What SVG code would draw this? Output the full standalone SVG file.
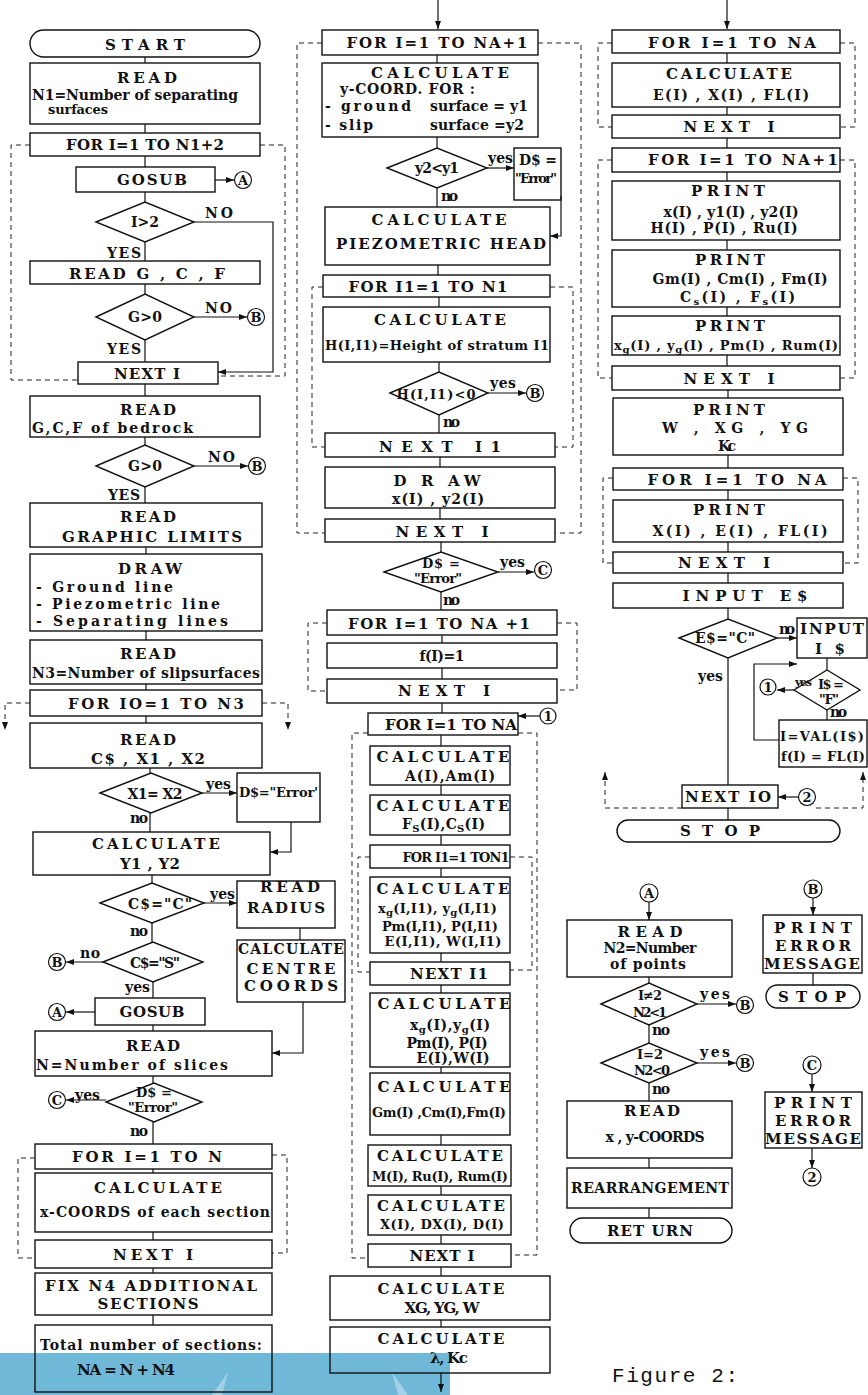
<svg xmlns="http://www.w3.org/2000/svg" width="868" height="1395" viewBox="0 0 868 1395">
<defs>
<marker id="ah" markerWidth="8" markerHeight="6" refX="8" refY="3" orient="auto" markerUnits="userSpaceOnUse"><path d="M0,0 L8,3 L0,6 z" fill="#111"/></marker>
<style>
.b{fill:none;stroke:#111;stroke-width:1.4}
.c{fill:none;stroke:#111;stroke-width:1.2}
.a{fill:none;stroke:#111;stroke-width:1.2;marker-end:url(#ah)}
.d{fill:none;stroke:#222;stroke-width:1;stroke-dasharray:5 4}
.da{fill:none;stroke:#222;stroke-width:1;stroke-dasharray:5 4;marker-end:url(#ah)}
text{font-family:"DejaVu Serif","Liberation Serif",serif;font-weight:bold;fill:#111}
.t{font-size:14px;text-anchor:middle}
.h{font-size:15px;text-anchor:middle}
.l{font-size:14px}
.s{font-size:13px}
.k{font-size:13px;text-anchor:middle}
.m{font-family:"Liberation Mono",monospace;font-weight:normal;font-size:21px}
</style>
</defs>
<rect x="0" y="0" width="868" height="1395" fill="#fff"/>
<g id="band">
<rect x="0" y="1353" width="450" height="42" fill="#70b8d8"/>
<path d="M228,1372 L212,1395 L222,1395 Z" fill="#fff" opacity="0.35"/>
<path d="M392,1372 L408,1395 L398,1395 Z" fill="#fff" opacity="0.35"/>
</g>

<!-- ===== LEFT COLUMN ===== -->
<g id="n_start"><rect class="b" x="30" y="30" width="230" height="27" rx="13.5"/><text class="h" x="145" y="50" textLength="80">START</text></g>
<g id="n_readN1"><rect class="b" x="30" y="63" width="230" height="61"/><text class="h" x="147" y="83" textLength="60">READ</text><text class="l" x="32" y="100" textLength="206">N1=Number of separating</text><text class="s" x="48" y="114" textLength="60">surfaces</text></g>
<g id="n_forN1"><rect class="b" x="30" y="133" width="230" height="23"/><text class="h" x="145" y="150" textLength="158">FOR I=1 TO N1+2</text></g>
<g id="n_gosub1"><rect class="b" x="76" y="167" width="139" height="25"/><text class="h" x="152" y="185" textLength="70">GOSUB</text></g>
<g id="n_i2"><polygon class="b" points="96,222 145,202 194,222 145,242"/><text class="t" x="145" y="227" textLength="28">I&gt;2</text></g>
<g id="n_readGCF"><rect class="b" x="30" y="261" width="230" height="23"/><text class="h" x="147" y="279" textLength="156">READ   G , C , F</text></g>
<g id="n_g0a"><polygon class="b" points="96,317 145,294 194,317 145,340"/><text class="t" x="145" y="322" textLength="34">G&gt;0</text></g>
<g id="n_next1"><rect class="b" x="78" y="362" width="140" height="22"/><text class="h" x="147" y="379" textLength="66">NEXT I</text></g>
<g id="n_bedrock"><rect class="b" x="30" y="396" width="230" height="41"/><text class="h" x="148" y="415" textLength="56">READ</text><text class="l" x="32" y="433" textLength="161">G,C,F of bedrock</text></g>
<g id="n_g0b"><polygon class="b" points="96,466 145,445 194,466 145,487"/><text class="t" x="145" y="471" textLength="34">G&gt;0</text></g>
<g id="n_graphic"><rect class="b" x="30" y="503" width="232" height="44"/><text class="h" x="148" y="522" textLength="56">READ</text><text class="h" x="152" y="542" textLength="180">GRAPHIC LIMITS</text></g>
<g id="n_draw1"><rect class="b" x="30" y="554" width="232" height="77"/><text class="h" x="150" y="574" textLength="64">DRAW</text><text class="l" x="36" y="592" textLength="137">- Ground line</text><text class="l" x="36" y="609" textLength="184">- Piezometric line</text><text class="l" x="36" y="626" textLength="192">- Separating lines</text></g>
<g id="n_readN3"><rect class="b" x="30" y="640" width="232" height="44"/><text class="h" x="148" y="659" textLength="56">READ</text><text class="l" x="32" y="678" textLength="228">N3=Number of slipsurfaces</text></g>
<g id="n_forIO"><rect class="b" x="30" y="690" width="232" height="26"/><text class="h" x="156" y="709" textLength="176">FOR IO=1 TO N3</text></g>
<g id="n_readC"><rect class="b" x="30" y="723" width="232" height="45"/><text class="h" x="148" y="745" textLength="56">READ</text><text class="h" x="148" y="764" textLength="114">C$ , X1 , X2</text></g>
<g id="n_x1x2"><polygon class="b" points="100,793 151,773 202,793 151,813"/><text class="t" x="155" y="799" textLength="55">X1= X2</text></g>
<g id="n_derr1"><rect class="b" x="237" y="773" width="83" height="49"/><text class="s" x="239" y="797" textLength="79">D$="Error'</text></g>
<g id="n_calcY"><rect class="b" x="33" y="832" width="237" height="43"/><text class="h" x="156" y="849" textLength="128">CALCULATE</text><text class="h" x="150" y="869" textLength="60">Y1 , Y2</text></g>
<g id="n_cC"><polygon class="b" points="100,903 152,883 204,903 152,923"/><text class="t" x="160" y="909" textLength="64">C$="C"</text></g>
<g id="n_radius"><rect class="b" x="237" y="881" width="98" height="47"/><text class="h" x="290" y="892" textLength="60">READ</text><text class="h" x="286" y="913" textLength="78">RADIUS</text></g>
<g id="n_centre"><rect class="b" x="237" y="940" width="108" height="62"/><text class="t" x="291" y="954" textLength="106">CALCULATE</text><text class="h" x="291" y="974" textLength="89">CENTRE</text><text class="h" x="291" y="991" textLength="94">COORDS</text></g>
<g id="n_cS"><polygon class="b" points="103,962 153,942 203,962 153,982"/><text class="t" x="155" y="968" textLength="50">C$="S"</text></g>
<g id="n_gosub2"><rect class="b" x="95" y="998" width="110" height="27"/><text class="h" x="152" y="1017" textLength="65">GOSUB</text></g>
<g id="n_readN"><rect class="b" x="35" y="1031" width="237" height="45"/><text class="h" x="153" y="1051" textLength="54">READ</text><text class="l" x="36" y="1070" textLength="192">N=Number of slices</text></g>
<g id="n_derr2"><polygon class="b" points="106,1102 154,1083 202,1102 154,1122"/><text class="k" x="154" y="1097" textLength="36">D$ =</text><text class="k" x="153" y="1112" textLength="50">"Error"</text></g>
<g id="n_forN"><rect class="b" x="35" y="1144" width="237" height="25"/><text class="h" x="147" y="1162" textLength="150">FOR  I=1 TO N</text></g>
<g id="n_calcx"><rect class="b" x="35" y="1173" width="237" height="59"/><text class="h" x="158" y="1193" textLength="128">CALCULATE</text><text class="l" x="40" y="1217" textLength="230">x-COORDS of each section</text></g>
<g id="n_nextN"><rect class="b" x="35" y="1240" width="237" height="28"/><text class="h" x="153" y="1260" textLength="80">NEXT I</text></g>
<g id="n_fix"><rect class="b" x="35" y="1273" width="237" height="42"/><text class="h" x="151" y="1291" textLength="212">FIX N4 ADDITIONAL</text><text class="h" x="148" y="1309" textLength="101">SECTIONS</text></g>
<g id="n_total"><rect class="b" x="35" y="1325" width="237" height="67"/><text class="l" x="40" y="1350" textLength="222">Total number of sections:</text><text class="h" x="126" y="1375" textLength="98">NA = N + N4</text></g>

<!-- connector circles left -->
<g id="c_A1"><circle class="c" cx="243" cy="180" r="8.5"/><text class="k" x="243" y="185">A</text></g>
<g id="c_B1"><circle class="c" cx="256" cy="317" r="8.5"/><text class="k" x="256" y="322">B</text></g>
<g id="c_B2"><circle class="c" cx="257" cy="466" r="8.5"/><text class="k" x="257" y="471">B</text></g>
<g id="c_B3"><circle class="c" cx="57" cy="962" r="8.5"/><text class="k" x="57" y="967">B</text></g>
<g id="c_A2"><circle class="c" cx="57" cy="1012" r="8.5"/><text class="k" x="57" y="1017">A</text></g>
<g id="c_C1"><circle class="c" cx="57" cy="1100" r="8.5"/><text class="k" x="57" y="1105">C</text></g>

<!-- ===== MIDDLE COLUMN ===== -->
<g id="m_forNA1"><rect class="b" x="322" y="30" width="216" height="25"/><text class="h" x="437" y="48" textLength="181">FOR I=1 TO NA+1</text></g>
<g id="m_calcY"><rect class="b" x="322" y="63" width="216" height="74"/><text class="h" x="440" y="78" textLength="138">CALCULATE</text><text class="l" x="340" y="94" textLength="135">y-COORD. FOR :</text><text class="l" x="325" y="111" textLength="86">- ground</text><text class="l" x="430" y="111" textLength="98">surface = y1</text><text class="l" x="325" y="130" textLength="48">- slip</text><text class="l" x="430" y="130" textLength="94">surface =y2</text></g>
<g id="m_y2y1"><polygon class="b" points="387,168 437,148 487,168 437,188"/><text class="t" x="437" y="173" textLength="44">y2&lt;y1</text></g>
<g id="m_derr"><rect class="b" x="514" y="148" width="47" height="52"/><text class="l" x="519" y="165" textLength="38">D$ =</text><text class="s" x="515" y="183" textLength="42">"Error"</text></g>
<g id="m_piezo"><rect class="b" x="325" y="207" width="225" height="58"/><text class="h" x="439" y="225" textLength="135">CALCULATE</text><text class="h" x="441" y="249" textLength="210">PIEZOMETRIC HEAD</text></g>
<g id="m_forI1"><rect class="b" x="323" y="275" width="227" height="22"/><text class="h" x="428" y="292" textLength="159">FOR I1=1 TO N1</text></g>
<g id="m_calcH"><rect class="b" x="323" y="307" width="227" height="55"/><text class="h" x="440" y="325" textLength="132">CALCULATE</text><text class="s" x="325" y="350" textLength="224">H(I,I1)=Height of stratum I1</text></g>
<g id="m_hneg"><polygon class="b" points="390,393 439,372 488,393 439,415"/><text class="k" x="436" y="399" textLength="79">H(I,I1)&lt;0</text></g>
<g id="m_nextI1"><rect class="b" x="325" y="433" width="230" height="24"/><text class="h" x="440" y="452" textLength="122">NEXT I1</text></g>
<g id="m_draw"><rect class="b" x="325" y="467" width="230" height="41"/><text class="h" x="437" y="486" textLength="87">D R AW</text><text class="t" x="438" y="504" textLength="92">x(I)  ,  y2(I)</text></g>
<g id="m_nextI"><rect class="b" x="325" y="519" width="230" height="23"/><text class="h" x="442" y="537" textLength="93">NEXT I</text></g>
<g id="m_derr2"><polygon class="b" points="384,572 441,552 498,572 441,592"/><text class="k" x="441" y="568" textLength="38">D$ =</text><text class="k" x="438" y="583" textLength="48">"Error"</text></g>
<g id="m_forNA1b"><rect class="b" x="327" y="610" width="230" height="25"/><text class="h" x="439" y="629" textLength="182">FOR I=1 TO NA +1</text></g>
<g id="m_f1"><rect class="b" x="327" y="643" width="230" height="25"/><text class="t" x="442" y="661" textLength="45">f(I)=1</text></g>
<g id="m_nextIb"><rect class="b" x="327" y="679" width="230" height="24"/><text class="h" x="444" y="696" textLength="92">NEXT I</text></g>
<g id="m_forNA"><rect class="b" x="368" y="713" width="150" height="22"/><text class="h" x="451" y="730" textLength="132">FOR I=1 TO NA</text></g>
<g id="m_calcA"><rect class="b" x="370" y="746" width="140" height="39"/><text class="h" x="443" y="762" textLength="133">CALCULATE</text><text class="t" x="450" y="781" textLength="90">A(I),Am(I)</text></g>
<g id="m_calcF"><rect class="b" x="370" y="795" width="140" height="40"/><text class="h" x="443" y="811" textLength="133">CALCULATE</text><text class="l" x="402" y="829" textLength="83">F<tspan font-size="10" dy="3">S</tspan><tspan dy="-3">(I),C</tspan><tspan font-size="10" dy="3">S</tspan><tspan dy="-3">(I)</tspan></text></g>
<g id="m_forI1b"><rect class="b" x="370" y="845" width="140" height="23"/><text class="k" x="456" y="862" textLength="107">FOR I1=1 TON1</text></g>
<g id="m_calcXg"><rect class="b" x="370" y="877" width="140" height="76"/><text class="h" x="443" y="894" textLength="133">CALCULATE</text><text class="s" x="378" y="913" textLength="119">x<tspan font-size="10" dy="3">g</tspan><tspan dy="-3">(I,I1), y</tspan><tspan font-size="10" dy="3">g</tspan><tspan dy="-3">(I,I1)</tspan></text><text class="k" x="440" y="931" textLength="116">Pm(I,I1), P(I,I1)</text><text class="k" x="443" y="946" textLength="117">E(I,I1), W(I,I1)</text></g>
<g id="m_nextI1b"><rect class="b" x="370" y="962" width="140" height="23"/><text class="h" x="449" y="979" textLength="78">NEXT I1</text></g>
<g id="m_calcXg2"><rect class="b" x="370" y="993" width="140" height="74"/><text class="h" x="444" y="1009" textLength="133">CALCULATE</text><text class="l" x="410" y="1030" textLength="80">x<tspan font-size="10" dy="3">g</tspan><tspan dy="-3">(I),y</tspan><tspan font-size="10" dy="3">g</tspan><tspan dy="-3">(I)</tspan></text><text class="t" x="447" y="1048" textLength="81">Pm(I), P(I)</text><text class="t" x="453" y="1063" textLength="73">E(I),W(I)</text></g>
<g id="m_calcGm"><rect class="b" x="370" y="1073" width="140" height="62"/><text class="h" x="444" y="1092" textLength="133">CALCULATE</text><text class="k" x="439" y="1117" textLength="134">Gm(I) ,Cm(I),Fm(I)</text></g>
<g id="m_calcM"><rect class="b" x="368" y="1145" width="143" height="41"/><text class="h" x="440" y="1161" textLength="126">CALCULATE</text><text class="k" x="440" y="1181" textLength="136">M(I), Ru(I), Rum(I)</text></g>
<g id="m_calcX"><rect class="b" x="368" y="1195" width="143" height="40"/><text class="h" x="441" y="1211" textLength="128">CALCULATE</text><text class="k" x="442" y="1229" textLength="124">X(I), DX(I), D(I)</text></g>
<g id="m_nextIc"><rect class="b" x="368" y="1244" width="143" height="23"/><text class="h" x="442" y="1261" textLength="65">NEXT I</text></g>
<g id="m_calcXG"><rect class="b" x="330" y="1276" width="220" height="44"/><text class="h" x="441" y="1294" textLength="127">CALCULATE</text><text class="h" x="442" y="1313" textLength="75">XG, YG, W</text></g>
<g id="m_calcL"><rect class="b" x="330" y="1327" width="220" height="46"/><text class="h" x="441" y="1344" textLength="127">CALCULATE</text><text class="h" x="449" y="1363" textLength="38">λ, Kc</text></g>
<g id="c_B4"><circle class="c" cx="535" cy="393" r="8.5"/><text class="k" x="535" y="398">B</text></g>
<g id="c_C2"><circle class="c" cx="543" cy="570" r="8.5"/><text class="k" x="543" y="575">C</text></g>
<g id="c_1a"><circle class="c" cx="548" cy="716" r="8"/><text class="k" x="548" y="721">1</text></g>

<!-- ===== RIGHT COLUMN ===== -->
<g id="r_forNA"><rect class="b" x="612" y="30" width="228" height="23"/><text class="h" x="732" y="48" textLength="168">FOR I=1 TO NA</text></g>
<g id="r_calcE"><rect class="b" x="612" y="63" width="228" height="44"/><text class="h" x="729" y="79" textLength="126">CALCULATE</text><text class="t" x="731" y="100" textLength="156">E(I) , X(I) , FL(I)</text></g>
<g id="r_nextI"><rect class="b" x="612" y="115" width="228" height="23"/><text class="h" x="729" y="132" textLength="91">NEXT I</text></g>
<g id="r_forNA1"><rect class="b" x="612" y="148" width="228" height="24"/><text class="h" x="743" y="165" textLength="190">FOR I=1 TO NA+1</text></g>
<g id="r_print1"><rect class="b" x="612" y="181" width="228" height="59"/><text class="h" x="728" y="196" textLength="74">PRINT</text><text class="t" x="731" y="217" textLength="135">x(I) , y1(I) , y2(I)</text><text class="t" x="724" y="233" textLength="147">H(I) , P(I) , Ru(I)</text></g>
<g id="r_print2"><rect class="b" x="612" y="250" width="228" height="57"/><text class="h" x="730" y="265" textLength="70">PRINT</text><text class="t" x="740" y="284" textLength="175">Gm(I) , Cm(I) , Fm(I)</text><text class="l" x="680" y="302" textLength="115">C<tspan font-size="10" dy="3">s</tspan><tspan dy="-3">(I)   ,   F</tspan><tspan font-size="10" dy="3">s</tspan><tspan dy="-3">(I)</tspan></text></g>
<g id="r_print3"><rect class="b" x="612" y="316" width="228" height="39"/><text class="h" x="730" y="331" textLength="70">PRINT</text><text class="s" x="614" y="350" textLength="224">x<tspan font-size="10" dy="3">g</tspan><tspan dy="-3">(I) , y</tspan><tspan font-size="10" dy="3">g</tspan><tspan dy="-3">(I) , Pm(I) , Rum(I)</tspan></text></g>
<g id="r_nextI2"><rect class="b" x="612" y="366" width="228" height="24"/><text class="h" x="729" y="384" textLength="91">NEXT I</text></g>
<g id="r_printW"><rect class="b" x="613" y="398" width="230" height="57"/><text class="h" x="729" y="415" textLength="72">PRINT</text><text class="t" x="735" y="433" textLength="146">W  ,  XG  ,  YG</text><text class="t" x="727" y="451" textLength="18">Kc</text></g>
<g id="r_forNA2"><rect class="b" x="613" y="468" width="230" height="22"/><text class="h" x="737" y="485" textLength="179">FOR I=1  TO NA</text></g>
<g id="r_printX"><rect class="b" x="613" y="500" width="230" height="42"/><text class="h" x="729" y="515" textLength="72">PRINT</text><text class="t" x="740" y="536" textLength="175">X(I)  ,  E(I)  ,  FL(I)</text></g>
<g id="r_nextI3"><rect class="b" x="613" y="552" width="230" height="21"/><text class="h" x="724" y="568" textLength="92">NEXT I</text></g>
<g id="r_inputE"><rect class="b" x="613" y="583" width="230" height="25"/><text class="h" x="745" y="601" textLength="125">INPUT E$</text></g>
<g id="r_eC"><polygon class="b" points="679,638 728,619 777,638 728,658"/><text class="t" x="725" y="643" textLength="60">E$="C"</text></g>
<g id="r_inputI"><rect class="b" x="797" y="618" width="70" height="40"/><text class="h" x="832" y="634" textLength="64">INPUT</text><text class="h" x="830" y="654" textLength="30">I $</text></g>
<g id="r_iF"><polygon class="b" points="794,690 827,670 860,690 827,710"/><text class="k" x="831" y="689" textLength="26">I$ =</text><text class="k" x="829" y="704" textLength="20">"F"</text></g>
<g id="r_val"><rect class="b" x="779" y="720" width="88" height="47"/><text class="k" x="822" y="741" textLength="84">I=VAL(I$)</text><text class="k" x="823" y="761" textLength="84">f(I) = FL(I)</text></g>
<g id="r_nextIO"><rect class="b" x="682" y="785" width="96" height="23"/><text class="h" x="728" y="802" textLength="86">NEXT IO</text></g>
<g id="r_stop"><rect class="b" x="617" y="820" width="223" height="22" rx="11"/><text class="h" x="720" y="836" textLength="80">S T O P</text></g>
<g id="c_1b"><circle class="c" cx="768" cy="687" r="8"/><text class="k" x="768" y="692">1</text></g>
<g id="c_2a"><circle class="c" cx="807" cy="797" r="8.5"/><text class="k" x="807" y="802">2</text></g>

<!-- subroutine A -->
<g id="c_A3"><circle class="c" cx="649" cy="893" r="9"/><text class="k" x="649" y="898">A</text></g>
<g id="s_readN2"><rect class="b" x="567" y="920" width="165" height="57"/><text class="h" x="650" y="937" textLength="65">R E A D</text><text class="t" x="650" y="953" textLength="93">N2=Number</text><text class="t" x="648" y="969" textLength="76">of  points</text></g>
<g id="s_d1"><polygon class="b" points="601,1004 649,983 697,1004 649,1025"/><text class="k" x="650" y="1000" textLength="24">I≠2</text><text class="k" x="650" y="1017" textLength="34">N2&lt;1</text></g>
<g id="s_d2"><polygon class="b" points="601,1063 649,1043 697,1063 649,1083"/><text class="k" x="650" y="1059" textLength="26">I=2</text><text class="k" x="652" y="1075" textLength="36">N2&lt;0</text></g>
<g id="s_readxy"><rect class="b" x="567" y="1101" width="165" height="57"/><text class="h" x="652" y="1116" textLength="56">READ</text><text class="t" x="655" y="1142" textLength="99">x , y-COORDS</text></g>
<g id="s_rearr"><rect class="b" x="567" y="1168" width="165" height="40"/><text class="t" x="650" y="1193" textLength="158">REARRANGEMENT</text></g>
<g id="s_return"><rect class="b" x="570" y="1218" width="162" height="25" rx="12.5"/><text class="h" x="650" y="1236" textLength="86">RET URN</text></g>
<g id="c_B5"><circle class="c" cx="745" cy="1005" r="8.5"/><text class="k" x="745" y="1010">B</text></g>
<g id="c_B6"><circle class="c" cx="745" cy="1063" r="8.5"/><text class="k" x="745" y="1068">B</text></g>

<!-- error B -->
<g id="c_B7"><circle class="c" cx="813" cy="889" r="9"/><text class="k" x="813" y="894">B</text></g>
<g id="e_printB"><rect class="b" x="763" y="915" width="99" height="58"/><text class="h" x="813" y="933" textLength="78">PRINT</text><text class="h" x="813" y="951" textLength="76">ERROR</text><text class="h" x="812" y="969" textLength="96">MESSAGE</text></g>
<g id="e_stop"><rect class="b" x="766" y="985" width="94" height="23" rx="11.5"/><text class="h" x="812" y="1002" textLength="68">S T O P</text></g>
<!-- error C -->
<g id="c_C3"><circle class="c" cx="812" cy="1065" r="9"/><text class="k" x="812" y="1070">C</text></g>
<g id="e_printC"><rect class="b" x="765" y="1092" width="97" height="56"/><text class="h" x="813" y="1108" textLength="78">PRINT</text><text class="h" x="813" y="1126" textLength="76">ERROR</text><text class="h" x="813" y="1144" textLength="96">MESSAGE</text></g>
<g id="c_2b"><circle class="c" cx="812" cy="1177" r="9"/><text class="k" x="812" y="1182">2</text></g>

<text class="m" x="612" y="1382" textLength="126">Figure 2:</text>

<!-- ===== CONNECTORS ===== -->
<g id="connectors">
<path class="c" d="M145,57V63 M145,124V133 M145,156V167 M145,192V202 M145,242V261 M145,284V294 M145,340V362 M145,384V396 M145,437V445 M145,487V503 M146,547V554 M146,631V640 M146,684V690 M146,716V723 M150,768V773 M150,813V832 M152,875V883 M152,923V942 M153,982V998 M153,1025V1031 M153,1076V1083 M153,1122V1144 M153,1169V1173 M153,1232V1240 M153,1268V1273 M153,1315V1325"/>
<path class="a" d="M215,180H234"/>
<path class="a" d="M194,222H273V372H218"/>
<path class="a" d="M194,317H247"/>
<path class="a" d="M194,466H248"/>
<path class="a" d="M202,793H237"/>
<path class="a" d="M291,822V852H270"/>
<path class="a" d="M204,903H237"/>
<path class="c" d="M300,928V940"/>
<path class="a" d="M303,1002V1053H272"/>
<path class="a" d="M103,962H66"/>
<path class="a" d="M95,1012H66"/>
<path class="a" d="M106,1100H66"/>
<path class="d" d="M30,145H11V380H78"/>
<path class="d" d="M260,145H285V376H218"/>
<path class="da" d="M30,703H5V730"/>
<path class="da" d="M262,703H288V730"/>
<path class="d" d="M35,1158H18V1258H35"/>
<path class="d" d="M272,1155H287V1253H272"/>
<path class="a" d="M438,0V29"/>
<path class="c" d="M437,55V63 M437,137V148 M437,188V207 M438,265V275 M439,297V307 M439,362V372 M439,415V433 M440,457V467 M440,508V519 M441,542V552 M441,592V610 M442,635V643 M442,668V679 M442,703V713 M441,735V746 M441,785V795 M441,835V845 M441,868V877 M441,953V962 M441,985V993 M441,1067V1073 M441,1135V1145 M441,1186V1195 M441,1235V1244 M441,1267V1276 M441,1320V1327"/>
<path class="a" d="M441,1373V1392"/>
<path class="a" d="M487,168H514"/>
<path class="a" d="M561,196V236H550"/>
<path class="a" d="M488,393H526"/>
<path class="a" d="M498,572H534"/>
<path class="a" d="M540,716H518"/>
<path class="d" d="M322,43H297V533H325"/>
<path class="d" d="M538,43H581V533H555"/>
<path class="d" d="M323,287H312V447H325"/>
<path class="d" d="M550,287H573V447H555"/>
<path class="d" d="M327,623H308V691H327"/>
<path class="d" d="M557,623H577V690H557"/>
<path class="d" d="M368,733H352V1258H368"/>
<path class="d" d="M518,733H537V1255H511"/>
<path class="d" d="M370,857H358V972H370"/>
<path class="d" d="M510,857H532V970H510"/>
<path class="a" d="M727,0V29"/>
<path class="c" d="M727,53V63 M727,107V115 M727,138V148 M727,172V181 M727,240V250 M727,307V316 M727,355V366 M728,390V398 M728,455V468 M728,490V500 M728,542V552 M728,573V583 M728,608V619 M728,658V785 M728,808V820"/>
<path class="a" d="M777,638H797"/>
<path class="c" d="M827,658V670 M827,710V720"/>
<path class="a" d="M779,740H754V664H797"/>
<path class="a" d="M794,690H777"/>
<path class="a" d="M799,797H778"/>
<path class="d" d="M612,43H598V127H612"/>
<path class="d" d="M840,43H855V127H840"/>
<path class="d" d="M612,160H598V378H612"/>
<path class="d" d="M840,160H855V378H840"/>
<path class="d" d="M613,478H603V563H613"/>
<path class="d" d="M843,478H858V563H843"/>
<path class="da" d="M682,808H605V772"/>
<path class="da" d="M816,808H863V772"/>
<path class="a" d="M649,902V920"/>
<path class="c" d="M649,977V983 M649,1025V1043 M649,1083V1101 M649,1158V1168 M649,1208V1218"/>
<path class="a" d="M697,1004H736"/>
<path class="a" d="M697,1063H736"/>
<path class="a" d="M813,898V915"/>
<path class="c" d="M813,973V985"/>
<path class="a" d="M812,1074V1092"/>
<path class="a" d="M812,1148V1168"/>
</g>

<g id="labels">
<text class="l" x="205" y="218" textLength="28">NO</text>
<text class="l" x="107" y="258" textLength="34">YES</text>
<text class="l" x="205" y="313" textLength="27">NO</text>
<text class="l" x="107" y="354" textLength="34">YES</text>
<text class="l" x="208" y="462" textLength="27">NO</text>
<text class="l" x="108" y="500" textLength="32">YES</text>
<text class="l" x="206" y="789" textLength="25">yes</text>
<text class="l" x="130" y="823" textLength="18">no</text>
<text class="l" x="210" y="899" textLength="25">yes</text>
<text class="l" x="130" y="936" textLength="18">no</text>
<text class="l" x="80" y="958" textLength="20">no</text>
<text class="l" x="125" y="992" textLength="25">yes</text>
<text class="l" x="75" y="1100" textLength="25">yes</text>
<text class="l" x="130" y="1136" textLength="18">no</text>
<text class="l" x="488" y="163" textLength="25">yes</text>
<text class="l" x="441" y="201" textLength="17">no</text>
<text class="l" x="490" y="388" textLength="26">yes</text>
<text class="l" x="443" y="427" textLength="17">no</text>
<text class="l" x="500" y="567" textLength="25">yes</text>
<text class="l" x="443" y="605" textLength="17">no</text>
<text class="l" x="779" y="634" textLength="16">no</text>
<text class="l" x="698" y="681" textLength="25">yes</text>
<text class="s" x="795" y="686" textLength="17" style="font-size:11px">yes</text>
<text class="l" x="830" y="717" textLength="17">no</text>
<text class="l" x="700" y="999" textLength="30">yes</text>
<text class="l" x="652" y="1035" textLength="18">no</text>
<text class="l" x="700" y="1057" textLength="30">yes</text>
<text class="l" x="652" y="1094" textLength="18">no</text>
</g>
</svg>
